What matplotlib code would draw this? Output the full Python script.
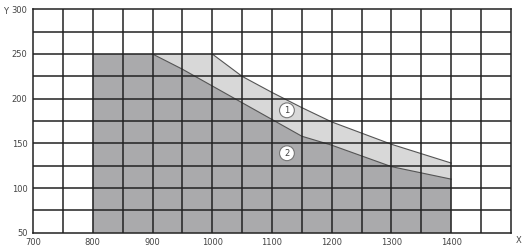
import matplotlib.pyplot as plt
import numpy as np

# boundary of zone 1 (light) and zone 2 (dark)
x1 = [1000, 1050, 1100, 1150, 1200, 1300, 1400]
y1 = [250, 225, 207, 190, 174, 149, 128]
x2 = [900, 950, 1150, 1200, 1300, 1400]
y2 = [250, 233, 158, 148, 124, 110]
x_start = 800
y_top = 250
y_min = 50

x_ticks = [700, 800, 900, 1000, 1100, 1200, 1300, 1400]
y_ticks = [50, 100, 150, 200, 250, 300]

fig = plt.figure(figsize=(5.25, 2.48), dpi=100)
ax = fig.add_axes([0.0629, 0.0613, 0.9104, 0.9012])

# zone 1 polygon
px = [x_start, x_start] + x1 + [x1[-1]]
py = [y_min, y_top] + y1 + [y_min]
ax.fill(px, py, color='#d8d8d8', lw=0, zorder=1)
# zone 2 polygon
px = [x_start, x_start] + x2 + [x2[-1]]
py = [y_min, y_top] + y2 + [y_min]
ax.fill(px, py, color='#aaaaac', lw=0, zorder=2)

ax.plot(x1, y1, color='#555555', lw=0.8, zorder=3)
ax.plot(x2, y2, color='#555555', lw=0.8, zorder=3)

ax.set_xlim(700, 1500)
ax.set_ylim(50, 300)
for v in np.arange(750, 1500, 50):
    ax.axvline(v, color='#222222', lw=1.1, zorder=4)
for v in np.arange(75, 300, 25):
    ax.axhline(v, color='#222222', lw=1.1, zorder=4)
for s in ax.spines.values():
    s.set_color('#222222')
    s.set_linewidth(1.1)
    s.set_zorder(5)

ax.set_xticks(x_ticks)
ax.set_yticks(y_ticks)
ax.tick_params(length=0, labelsize=6, colors='#444444', pad=4)

for lab, yy in [('1', 187), ('2', 139)]:
    ax.text(1125, yy, lab, ha='center', va='center', fontsize=6, color='#444444', zorder=6,
            bbox=dict(boxstyle='circle,pad=0.35', fc='white', ec='#777777', lw=0.8))

fig.text(0.006, 0.955, 'Y', fontsize=6, color='#444444', ha='left', va='center')
fig.text(0.987, 0.03, 'X', fontsize=6, color='#444444', ha='center', va='center')

fig.savefig('out.png', dpi=100)
